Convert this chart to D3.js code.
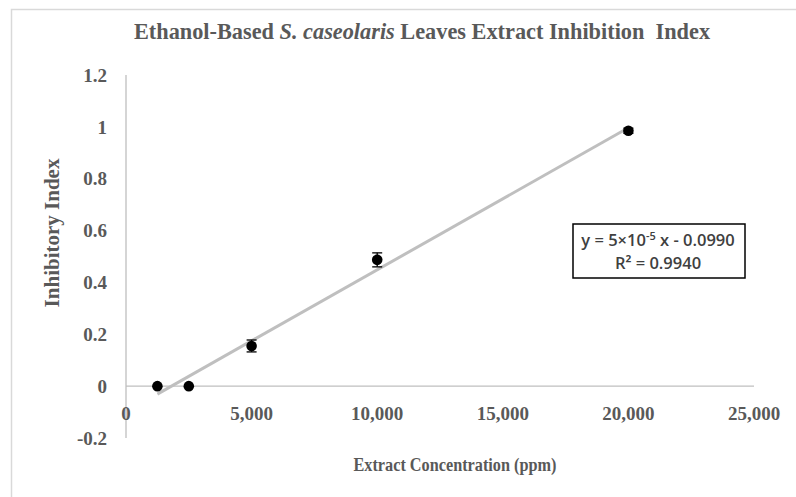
<!DOCTYPE html>
<html><head><meta charset="utf-8">
<script src="https://cdn.jsdelivr.net/npm/d3@7"></script>
<style>body{margin:0;background:#fff}</style>
</head><body>
<svg id="c" width="796" height="497"></svg>
<script>
const concentrations = [1250, 2500, 5000, 10000, 20000];
const inhibitoryIndex = [0, 0, 0.155, 0.487, 0.985];
const errorValues = [0, 0, 0.023, 0.027, 0.010];
const xTicks = [0, 5000, 10000, 15000, 20000, 25000];
const yTicks = [-0.2, 0, 0.2, 0.4, 0.6, 0.8, 1, 1.2];

const svg = d3.select("#c");
const serif = "'Liberation Serif', 'DejaVu Serif', serif";
const grey = "#595959";

svg.append("rect").attr("x",11.5).attr("y",9.5).attr("width",800).attr("height",500)
  .attr("fill","#fff").attr("stroke","#d9d9d9").attr("stroke-width",1.5);

const x = d3.scaleLinear().domain([0,25000]).range([126,754]);
const y = d3.scaleLinear().domain([-0.2,1.2]).range([438,75]);

// axes lines
svg.append("line").attr("x1",x(0)).attr("x2",x(25000)).attr("y1",y(0)).attr("y2",y(0))
  .attr("stroke","#bfbfbf").attr("stroke-width",1.3);
svg.append("line").attr("x1",x(0)).attr("x2",x(0)).attr("y1",y(1.2)).attr("y2",y(-0.2))
  .attr("stroke","#bfbfbf").attr("stroke-width",1.3);

// tick labels
svg.selectAll(".yt").data(yTicks).join("text")
  .attr("x",107).attr("y",d=>y(d)).attr("dy","0.35em").attr("text-anchor","end")
  .attr("font-family",serif).attr("font-size",19).attr("font-weight","bold").attr("fill",grey)
  .text(d=>String(+d.toFixed(1)));
svg.selectAll(".xt").data(xTicks).join("text")
  .attr("x",d=>x(d)).attr("y",y(0)+27).attr("dy","0.35em").attr("text-anchor","middle")
  .attr("font-family",serif).attr("font-size",19).attr("font-weight","bold").attr("fill",grey)
  .text(d=>d3.format(",")(d));

// trendline (least squares)
const n = concentrations.length;
const mx = d3.mean(concentrations), my = d3.mean(inhibitoryIndex);
let sxy=0,sxx=0;
for(let i=0;i<n;i++){sxy+=(concentrations[i]-mx)*(inhibitoryIndex[i]-my);sxx+=(concentrations[i]-mx)**2;}
const slope = sxy/sxx, icpt = my - slope*mx;
const x0 = d3.min(concentrations), x1 = d3.max(concentrations);
svg.append("line").attr("x1",x(x0)).attr("y1",y(slope*x0+icpt)).attr("x2",x(x1)).attr("y2",y(slope*x1+icpt))
  .attr("stroke","#bfbfbf").attr("stroke-width",3);

// error bars
const pts = concentrations.map((c,i)=>({c, v:inhibitoryIndex[i], e:errorValues[i]}));
const eg = svg.append("g").attr("stroke","#000").attr("stroke-width",1.3);
pts.filter(d=>d.e>0).forEach(d=>{
  eg.append("line").attr("x1",x(d.c)).attr("x2",x(d.c)).attr("y1",y(d.v+d.e)).attr("y2",y(d.v-d.e));
  eg.append("line").attr("x1",x(d.c)-5).attr("x2",x(d.c)+5).attr("y1",y(d.v+d.e)).attr("y2",y(d.v+d.e));
  eg.append("line").attr("x1",x(d.c)-5).attr("x2",x(d.c)+5).attr("y1",y(d.v-d.e)).attr("y2",y(d.v-d.e));
});
svg.selectAll(".pt").data(pts).join("circle")
  .attr("cx",d=>x(d.c)).attr("cy",d=>y(d.v)).attr("r",5.3).attr("fill","#000");

// title
const t = svg.append("text").attr("x",422).attr("y",39).attr("text-anchor","middle")
  .attr("font-family",serif).attr("font-size",22.3).attr("font-weight","bold").attr("fill",grey)
  .attr("xml:space","preserve");
t.append("tspan").text("Ethanol-Based ");
t.append("tspan").attr("font-style","italic").text("S. caseolaris");
t.append("tspan").text(" Leaves Extract Inhibition  Index");

// axis titles
svg.append("text").attr("transform","translate(59,233) rotate(-90)").attr("text-anchor","middle")
  .attr("font-family",serif).attr("font-size",21).attr("font-weight","bold").attr("fill",grey)
  .text("Inhibitory Index");
svg.append("text").attr("x",455).attr("y",471).attr("text-anchor","middle")
  .attr("font-family",serif).attr("font-size",18.5).attr("font-weight","bold").attr("fill",grey)
  .attr("textLength",203).attr("lengthAdjust","spacingAndGlyphs")
  .text("Extract Concentration (ppm)");

// equation box
svg.append("rect").attr("x",573).attr("y",224).attr("width",172).attr("height",54)
  .attr("fill","#fff").attr("stroke","#000").attr("stroke-width",1.5);
const sans = "'Open Sans', 'Liberation Sans', sans-serif";
const e1 = svg.append("text").attr("x",658).attr("y",246).attr("text-anchor","middle")
  .attr("font-family",sans).attr("font-size",16.5).attr("font-weight","600").attr("fill","#404040");
e1.append("tspan").text("y = 5×10");
e1.append("tspan").attr("font-size",11).attr("dy",-6).text("-5");
e1.append("tspan").attr("dy",6).text(" x - 0.0990");
svg.append("text").attr("x",658).attr("y",269).attr("text-anchor","middle")
  .attr("font-family",sans).attr("font-size",16.5).attr("font-weight","600").attr("fill","#404040")
  .text("R² = 0.9940");
</script>
</body></html>
